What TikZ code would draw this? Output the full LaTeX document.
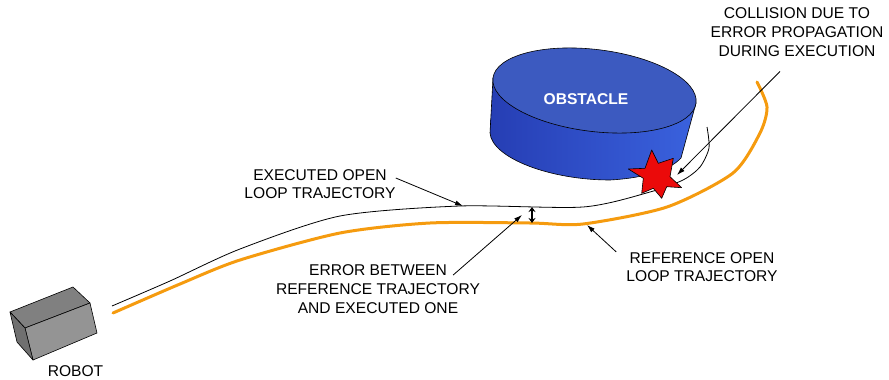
\documentclass[tikz,border=0pt]{standalone}
\usepackage{fontspec}
\setmainfont{Liberation Sans}
\usetikzlibrary{arrows.meta}
\definecolor{refline}{RGB}{245,155,15}
\definecolor{obstop}{RGB}{60,90,192}
\definecolor{obsdark}{RGB}{38,62,180}
\definecolor{obslight}{RGB}{68,112,238}
\definecolor{obsright}{RGB}{58,98,222}
\definecolor{boxtop}{RGB}{128,128,128}
\definecolor{boxfront}{RGB}{148,148,148}
\definecolor{boxside}{RGB}{112,112,112}
\definecolor{hitred}{RGB}{235,10,10}

\begin{document}
\begin{tikzpicture}[x=1pt, y=-1pt,
  lbl/.style={align=center, inner sep=0pt, font=\fontsize{15.6}{18.7}\selectfont},
  pointer/.style={draw, -{Latex[length=8pt,width=5pt]}, line width=0.8pt},
  face/.style={draw, line width=0.6pt, line join=round}
]
  \useasboundingbox (0,0) rectangle (889,380);

  % obstacle: shaded side, then the top disc
  \path[face, left color=obsdark, middle color=obslight, right color=obsright]
    (493,78) -- (490,133) .. controls (492,158) and (550,180) .. (610,180)
    .. controls (645,178) and (670,170) .. (681,158) -- (696,103) -- cycle;
  \path[face, fill=obstop, rotate around={-7:(594.5,90.5)}]
    (594.5,90.5) ellipse[x radius=102.3, y radius=41];
  \node[lbl, text=white, font={\fontsize{15.6}{18.7}\selectfont\bfseries}] (obstacle) at (586,99) {OBSTACLE};

  % trajectories
  \draw[refline, line width=3pt, line cap=round] plot[smooth, tension=0.45] coordinates {
    (113,313) (180,284) (240,260) (340,233) (430,223) (530,223) (583,224)
    (667,207) (733,173) (760,133) (767,107) (757,82)};
  \draw[line width=0.8pt] plot[smooth, tension=0.45] coordinates {
    (112,306) (170,281) (240,249) (340,216) (460,206) (583,207)
    (650,192) (683,180) (700,167) (709,148) (707,127)};

  \coordinate (exechit) at (463,206);
  \coordinate (refhit) at (587,225);
  \coordinate (gaphit) at (522,215);
  \coordinate (errtop) at (532,207);
  \coordinate (errbot) at (532,223);
  \coordinate (crash) at (677,175);

  % collision star
  \path[face, fill=hitred] (651.7,150) -- (658.3,163.3) -- (673.3,158.3) -- (670,176.7)
    -- (681.7,187.7) -- (666.7,186.7) -- (661.7,198.3) -- (653.3,188.3) -- (641.7,193.3)
    -- (643.3,178.3) -- (628.3,169) -- (645,168.3) -- cycle;

  % robot box
  \path[face, fill=boxtop] (10,312) -- (73,287) -- (90,303) -- (25,328) -- cycle;
  \path[face, fill=boxfront] (25,328) -- (90,303) -- (97,333) -- (33,360) -- cycle;
  \path[face, fill=boxside] (10,312) -- (25,328) -- (33,360) -- (17,342) -- cycle;

  \node[lbl] (robot) at (75.5,371) {ROBOT};
  \node[lbl] (execlbl) at (320,184) {EXECUTED OPEN\\LOOP TRAJECTORY};
  \node[lbl] (errlbl) at (378,289) {ERROR BETWEEN\\REFERENCE TRAJECTORY\\AND EXECUTED ONE};
  \node[lbl] (reflbl) at (702,267) {REFERENCE OPEN\\LOOP TRAJECTORY};
  \node[lbl] (colllbl) at (797,32) {COLLISION DUE TO\\ERROR PROPAGATION\\DURING EXECUTION};

  \draw[pointer] ([yshift=6pt]execlbl.east) -- (exechit);
  \draw[pointer] ([xshift=-27pt,yshift=14pt]errlbl.east) -- (gaphit);
  \draw[pointer] ([xshift=-10pt]reflbl.north west) -- (refhit);
  \draw[pointer] ([xshift=-17pt,yshift=-15pt]colllbl.south) -- (crash);
  \draw[{Stealth[length=5pt,width=7pt]}-{Stealth[length=5pt,width=7pt]}, line width=1.2pt] (errtop) -- (errbot);
\end{tikzpicture}
\end{document}
